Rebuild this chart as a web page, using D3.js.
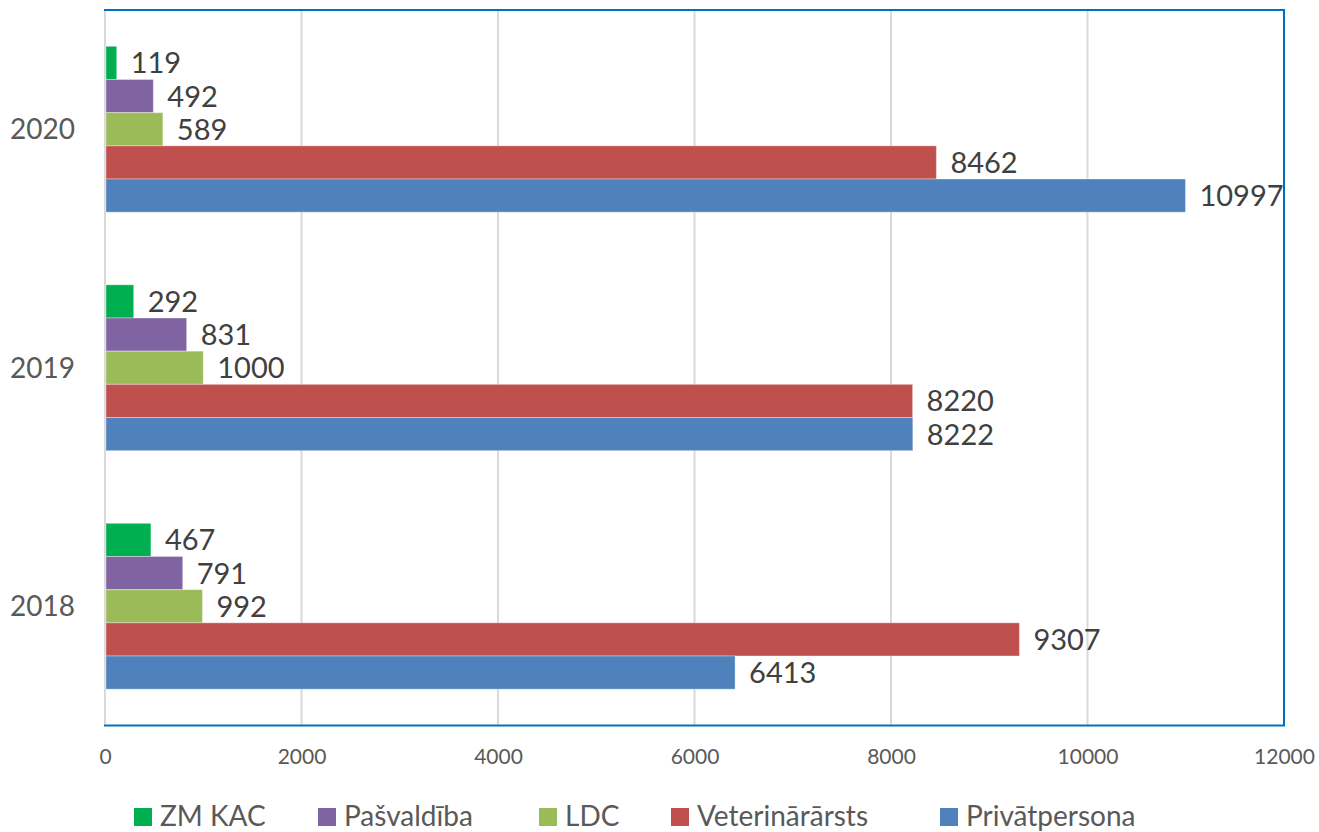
<!DOCTYPE html>
<html>
<head>
<meta charset="utf-8">
<script src="https://cdn.jsdelivr.net/npm/d3@7"></script>
<style>
  html, body { margin: 0; padding: 0; background: #fff; }
  svg { display: block; }
</style>
</head>
<body>
<svg id="chart" width="1319" height="832"></svg>
<script>
// ---- data ----
const years = ["2020", "2019", "2018"];
const seriesNames = ["ZM KAC", "Pašvaldība", "LDC", "Veterinārārsts", "Privātpersona"];
const zmKac = [119, 292, 467];
const pasvaldiba = [492, 831, 791];
const ldc = [589, 1000, 992];
const veterinararsts = [8462, 8220, 9307];
const privatpersona = [10997, 8222, 6413];
const xTicks = [0, 2000, 4000, 6000, 8000, 10000, 12000];
const seriesColors = ["#00B050", "#8064A2", "#9BBB59", "#C0504D", "#4F81BD"];

const seriesValues = [zmKac, pasvaldiba, ldc, veterinararsts, privatpersona];

// ---- layout ----
const svg = d3.select("#chart");
const pLeft = 105, pRight = 1284, pTop = 10, pBottom = 725.5;

const x = d3.scaleLinear().domain([0, 12000]).range([pLeft, pRight]);
const gap = 0.3045;
const y = d3.scaleBand().domain(years).range([pTop, pBottom]).paddingInner(gap).paddingOuter(gap / 2);
const ys = d3.scaleBand().domain(seriesNames).range([0, y.bandwidth()]);

// gridlines
svg.append("g").selectAll("line").data(xTicks.slice(1)).join("line")
  .attr("x1", d => x(d)).attr("x2", d => x(d))
  .attr("y1", pTop).attr("y2", pBottom)
  .attr("stroke", "#D9D9D9").attr("stroke-width", 2);

// plot border
svg.append("rect")
  .attr("x", pLeft).attr("y", pTop).attr("width", pRight - pLeft).attr("height", pBottom - pTop)
  .attr("fill", "none").attr("stroke", "#0070C0").attr("stroke-width", 2);

// left axis line
svg.append("line").attr("x1", pLeft).attr("x2", pLeft).attr("y1", pTop + 1).attr("y2", pBottom - 1)
  .attr("stroke", "#D9D9D9").attr("stroke-width", 2);

// bars
const rows = [];
years.forEach((yr, i) => {
  seriesNames.forEach((s, j) => {
    rows.push({ year: yr, series: s, value: seriesValues[j][i], color: seriesColors[j] });
  });
});

const g = svg.append("g");
g.selectAll("rect").data(rows).join("rect")
  .attr("x", x(0) + 1)
  .attr("y", d => y(d.year) + ys(d.series))
  .attr("width", d => x(d.value) - x(0) - 1)
  .attr("height", ys.bandwidth())
  .attr("fill", d => d.color)
  .attr("stroke", "rgba(255,255,255,0.35)")
  .attr("stroke-width", 1);

// data labels
g.selectAll("text").data(rows).join("text")
  .attr("x", d => x(d.value) + 14)
  .attr("y", d => y(d.year) + ys(d.series) + ys.bandwidth() / 2)
  .attr("dy", "0.36em")
  .attr("font-family", "Lato, 'Open Sans', sans-serif")
  .attr("font-size", 29)
  .attr("fill", "#404040")
  .text(d => d.value);

// y axis labels
svg.append("g").selectAll("text").data(years).join("text")
  .attr("x", 75)
  .attr("y", d => y(d) + y.bandwidth() / 2)
  .attr("dy", "0.36em")
  .attr("text-anchor", "end")
  .attr("font-family", "Lato, 'Open Sans', sans-serif")
  .attr("font-size", 28)
  .attr("fill", "#595959")
  .text(d => d);

// x axis
const xAxis = d3.axisBottom(x).tickValues(xTicks).tickSize(0).tickPadding(0).tickFormat(d3.format("d"));
const xg = svg.append("g").attr("transform", `translate(0, ${pBottom})`).call(xAxis);
xg.select(".domain").remove();
xg.selectAll("text")
  .attr("y", 31)
  .attr("dy", "0.36em")
  .attr("font-family", "Lato, 'Open Sans', sans-serif")
  .attr("font-size", 21)
  .attr("fill", "#595959");

// legend
const legendX = [134, 318, 539, 671, 940];
const lg = svg.append("g").selectAll("g").data(seriesNames).join("g")
  .attr("transform", (d, i) => `translate(${legendX[i]}, 816)`);
lg.append("rect").attr("x", 0).attr("y", -8).attr("width", 18).attr("height", 18)
  .attr("fill", (d, i) => seriesColors[i]);
lg.append("text").attr("x", 26).attr("y", 0).attr("dy", "0.34em")
  .attr("font-family", "Lato, 'Open Sans', sans-serif")
  .attr("font-size", 28)
  .attr("fill", "#595959")
  .text(d => d);
</script>
</body>
</html>
